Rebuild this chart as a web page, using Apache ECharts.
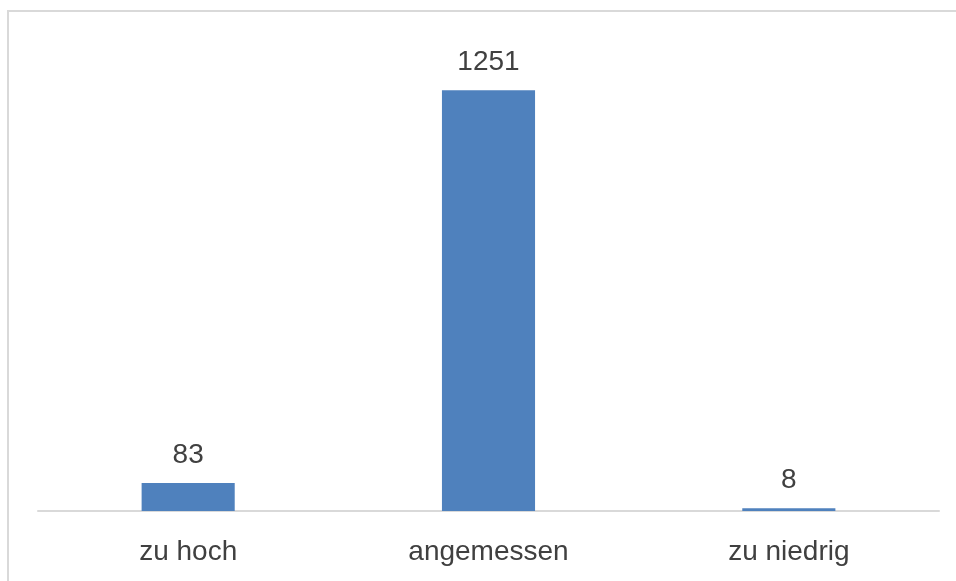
<!DOCTYPE html>
<html>
<head>
<meta charset="utf-8">
<script src="https://cdn.jsdelivr.net/npm/echarts@6/dist/echarts.min.js"></script>
<style>
  html, body { margin: 0; padding: 0; background: #fff; }
  #main { width: 956px; height: 581px; }
</style>
</head>
<body>
<div id="main"></div>
<script>
// Kategorien und Werte
var categories = ['zu hoch', 'angemessen', 'zu niedrig'];
var counts = [83, 1251, 8];

var myChart = echarts.init(document.getElementById('main'));
var option = {
    backgroundColor: '#fff',
    animation: false,
    graphic: [{
        type: 'rect',
        shape: { x: 8, y: 11, width: 960, height: 600 },
        style: { fill: 'none', stroke: '#d9d9d9', lineWidth: 2 },
        silent: true
    }],
    grid: {
        left: 38,
        right: 17,
        top: 40,
        bottom: 70
    },
    xAxis: {
        type: 'category',
        data: categories,
        axisLine: { lineStyle: { color: '#d9d9d9', width: 2 } },
        axisTick: { show: false },
        axisLabel: {
            color: '#404040',
            fontSize: 28,
            fontFamily: 'Liberation Sans, Arial, sans-serif',
            margin: 27
        }
    },
    yAxis: {
        type: 'value',
        min: 0,
        max: 1400,
        show: false,
        splitLine: { show: false }
    },
    series: [{
        type: 'bar',
        data: counts,
        barWidth: '31%',
        itemStyle: { color: '#4f81bd' },
        label: {
            show: true,
            position: 'top',
            distance: 14,
            color: '#404040',
            fontSize: 28,
            fontFamily: 'Liberation Sans, Arial, sans-serif'
        }
    }]
};
myChart.setOption(option, true);
</script>
</body>
</html>
